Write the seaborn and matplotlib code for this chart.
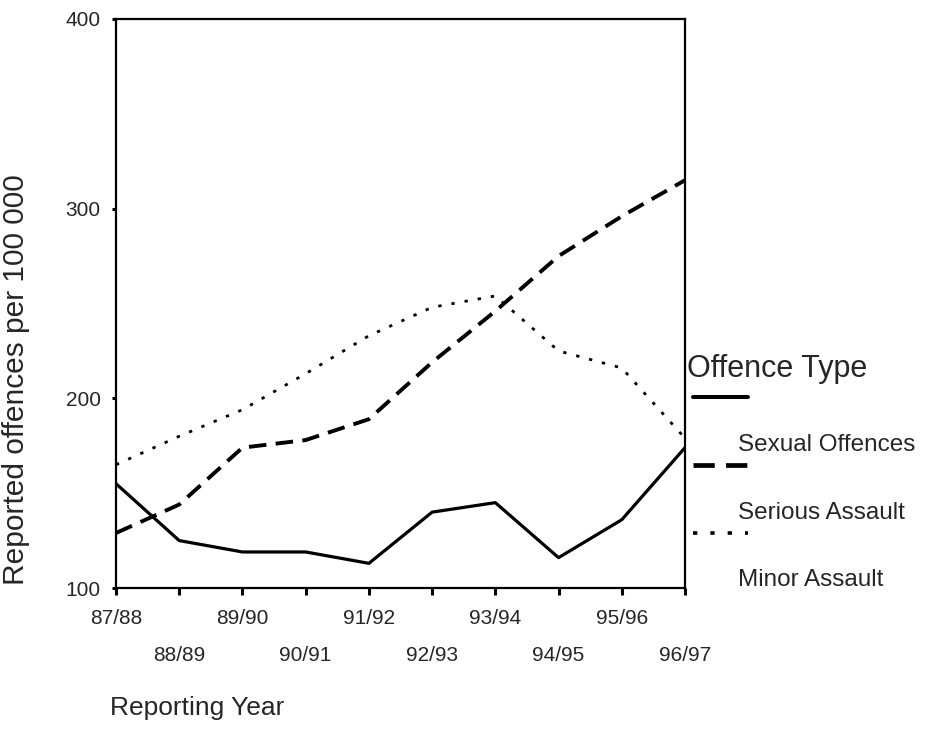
import matplotlib
matplotlib.use("Agg")
import matplotlib.pyplot as plt
from matplotlib.lines import Line2D
import seaborn as sns
import pandas as pd

years = ["87/88", "88/89", "89/90", "90/91", "91/92",
         "92/93", "93/94", "94/95", "95/96", "96/97"]
sexual_offences = [155, 125, 119, 119, 113, 140, 145, 116, 136, 174]
serious_assault = [129, 144, 174, 178, 189, 219, 246, 275, 296, 315]
minor_assault = [165, 180, 194, 213, 233, 248, 254, 225, 216, 179]

offence_types = ["Sexual Offences", "Serious Assault", "Minor Assault"]

df = pd.DataFrame({
    "year": list(range(len(years))) * 3,
    "value": sexual_offences + serious_assault + minor_assault,
    "type": [t for t in offence_types for _ in years],
})

sns.set_style("ticks")
plt.rcParams["font.family"] = ["Liberation Sans", "DejaVu Sans"]

fig = plt.figure(figsize=(9.32, 7.48), dpi=100)
ax = fig.add_axes([116 / 932, 1 - 588 / 748, (685 - 116) / 932, (588 - 19) / 748])

# dash patterns are in linewidth units (matplotlib scales them)
dash_styles = {"Sexual Offences": None, "Serious Assault": (4.5, 2.4), "Minor Assault": (1.2, 3.6)}
widths = {"Sexual Offences": 2.3, "Serious Assault": 2.8, "Minor Assault": 2.0}

for t in offence_types:
    sns.lineplot(data=df[df["type"] == t], x="year", y="value", ax=ax,
                 color="black", linewidth=widths[t], legend=False)
    if dash_styles[t]:
        ax.lines[-1].set_dashes(dash_styles[t])

ax.set_xlim(0, len(years) - 1)
ax.set_ylim(100, 400)
ax.set_yticks([100, 200, 300, 400])
ax.set_yticklabels(["100", "200", "300", "400"], fontsize=15)

ax.set_xticks(range(0, len(years), 2))
ax.set_xticklabels(years[0::2], fontsize=15)
ax.set_xticks(range(1, len(years), 2), minor=True)
ax.set_xticklabels(years[1::2], minor=True, fontsize=15)
ax.tick_params(axis="x", which="major", length=5, width=2.2, pad=10, color="black")
ax.tick_params(axis="x", which="minor", length=5, width=2.2, pad=37, color="black")
ax.tick_params(axis="y", length=3, width=2.2, pad=8, color="black")

for s in ax.spines.values():
    s.set_linewidth(1.6)
    s.set_color("black")

ax.set_xlabel("")
ax.set_ylabel("Reported offences per 100 000", fontsize=21.5)
ax.yaxis.set_label_coords(-0.151, 0.366)

fig.text(110 / 932, 1 - 708 / 748, "Reporting Year", fontsize=19, ha="left", va="center")

# legend drawn by hand: line sample with label below it
fig.text(687 / 932, 1 - 369 / 748, "Offence Type", fontsize=22, ha="left", va="center")
legend_rows = [(397, 445), (465, 513), (533, 580)]
for t, (ly, ty) in zip(offence_types, legend_rows):
    yy = 1 - ly / 748
    ln = Line2D([693 / 932, 748 / 932], [yy, yy], transform=fig.transFigure,
                color="black", linewidth=widths[t] + 0.6)
    if dash_styles[t]:
        ln.set_dashes(dash_styles[t])
    fig.add_artist(ln)
    fig.text(738 / 932, 1 - ty / 748, t, fontsize=17.5, ha="left", va="center")

fig.savefig("out.png", dpi=100)
